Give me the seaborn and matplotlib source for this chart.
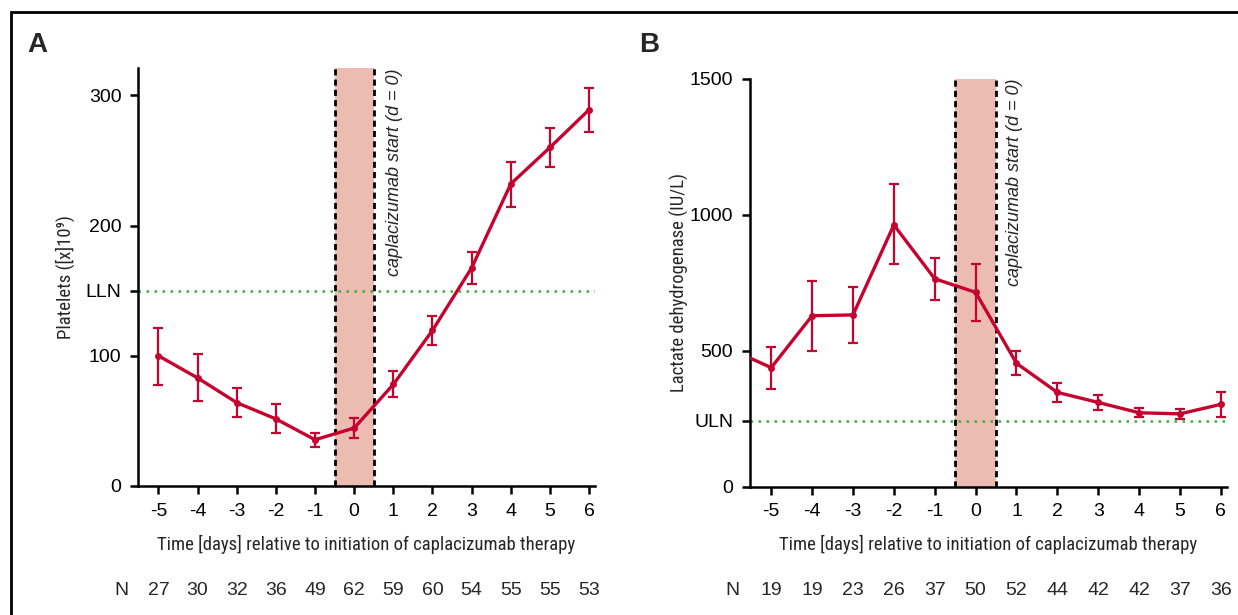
import numpy as np
import pandas as pd
import seaborn as sns
import matplotlib.pyplot as plt
from matplotlib.patches import Rectangle
from matplotlib.transforms import blended_transform_factory

# Data
days = [-5, -4, -3, -2, -1, 0, 1, 2, 3, 4, 5, 6]

plt_mean = [100, 83, 64, 51.5, 35.5, 44.5, 78, 119.5, 167.5, 232, 260, 289]
plt_low = [77.5, 65, 53, 40.5, 30, 36.5, 68.5, 108.5, 155, 214.5, 245, 272]
plt_high = [121.5, 101.5, 75, 63, 41, 52, 88, 130.5, 179.5, 249, 275, 306]
plt_n = [27, 30, 32, 36, 49, 62, 59, 60, 54, 55, 55, 53]
lln = 150

# LDH (includes day -6, which lies just off the left edge)
ldh_days = [-6, -5, -4, -3, -2, -1, 0, 1, 2, 3, 4, 5, 6]
ldh_mean = [506, 438, 629, 632, 963, 765, 715, 454, 347, 310, 272, 268, 303]
ldh_err_mean = ldh_mean[1:]
ldh_low = [358, 500, 528, 818, 686, 610, 411, 313, 282, 255, 248, 257]
ldh_high = [515, 757, 736, 1115, 842, 820, 499, 381, 337, 291, 287, 348]
ldh_n = [19, 19, 23, 26, 37, 50, 52, 44, 42, 42, 37, 36]
uln = 243

red = "#C4032F"
green = "#3DAE3D"
shade = "#ECBBB1"

sns.set_style("ticks")
plt.rcParams['font.family'] = ['Liberation Sans', 'DejaVu Sans']

fig = plt.figure(figsize=(12.38, 6.15), dpi=100)

axA = fig.add_axes([0.1115, 0.2098, 0.3691, 0.6796])
axB = fig.add_axes([0.6058, 0.2086, 0.3853, 0.6630])

narrow = ['Roboto Condensed', 'Archivo Narrow', 'PT Sans Narrow',
          'Liberation Sans Narrow', 'DejaVu Sans']
label_font = dict(family=narrow, size=13.5)


def draw_panel(ax, line_x, line_y, err_mean, low, high, ref, ref_label,
               ylim, yticks, ylabel, ns, note_x, ylab_x):
    ax.axvspan(-0.5, 0.5, color=shade, lw=0, zorder=0)
    for xv in (-0.5, 0.5):
        ax.axvline(xv, color="black", ls=(0, (2.2, 1.5)), lw=2, zorder=1)
    ax.axhline(ref, color=green, ls=(0, (1, 2.2)), lw=1.8, zorder=1)

    sns.lineplot(x=line_x, y=line_y, ax=ax, color=red, lw=2.4,
                 marker="o", markersize=5, markeredgewidth=0, zorder=3)
    yerr = [np.array(err_mean) - np.array(low),
            np.array(high) - np.array(err_mean)]
    ax.errorbar(days, err_mean, yerr=yerr, fmt="none", ecolor=red,
                elinewidth=1.6, capsize=3.5, capthick=1.6, zorder=3)

    ax.set_xlim(-5.52, 6.15)
    ax.set_ylim(*ylim)
    ax.set_xticks(days)
    ax.set_xticklabels([str(d) for d in days])
    ticks = sorted(yticks + [ref])
    ax.set_yticks(ticks)
    ax.set_yticklabels([ref_label if t == ref else str(t) for t in ticks])
    ax.tick_params(axis="both", direction="out", length=6, width=1.8,
                   labelsize=14, color="black", labelcolor="black", pad=6)
    for s in ("left", "bottom"):
        ax.spines[s].set_linewidth(1.8)
        ax.spines[s].set_color("black")
    sns.despine(ax=ax)

    ax.set_xlabel("Time [days] relative to initiation of caplacizumab therapy",
                  **label_font)
    ax.set_ylabel(ylabel, **label_font)
    ax.xaxis.set_label_coords(0.5, -0.118)
    ax.yaxis.set_label_coords(ylab_x, 0.5)

    trans = blended_transform_factory(ax.transData, ax.transAxes)
    ax.text(note_x, 1.0, "caplacizumab start (d = 0)", transform=trans,
            rotation=90, style="italic", fontsize=13, ha="left", va="top")

    ntrans = blended_transform_factory(ax.transData, fig.transFigure)
    ax.text(-5.95, 0.040, "N", transform=ntrans, ha="center", va="center",
            fontsize=14)
    for d, n in zip(days, ns):
        ax.text(d, 0.040, str(n), transform=ntrans, ha="center",
                va="center", fontsize=14)


draw_panel(axA, days, plt_mean, plt_mean, plt_low, plt_high, lln, "LLN",
           (0, 321), [0, 100, 200, 300], "Platelets ([x]10⁹)", plt_n,
           0.82, -0.138)
draw_panel(axB, ldh_days, ldh_mean, ldh_err_mean, ldh_low, ldh_high, uln,
           "ULN", (0, 1500), [0, 500, 1000, 1500],
           "Lactate dehydrogenase (IU/L)", ldh_n, 0.74, -0.128)

fig.text(0.030, 0.927, "A", fontsize=20, fontweight="heavy", ha="center",
         va="center")
fig.text(0.524, 0.927, "B", fontsize=20, fontweight="heavy", ha="center",
         va="center")

# outer frame (cut at right and bottom like the source)
fig.patches.append(Rectangle((0.0085, -0.1), 1.2, 1.0797, fill=False,
                             lw=2, ec="black", transform=fig.transFigure,
                             figure=fig))

fig.savefig("out.png", dpi=100)
